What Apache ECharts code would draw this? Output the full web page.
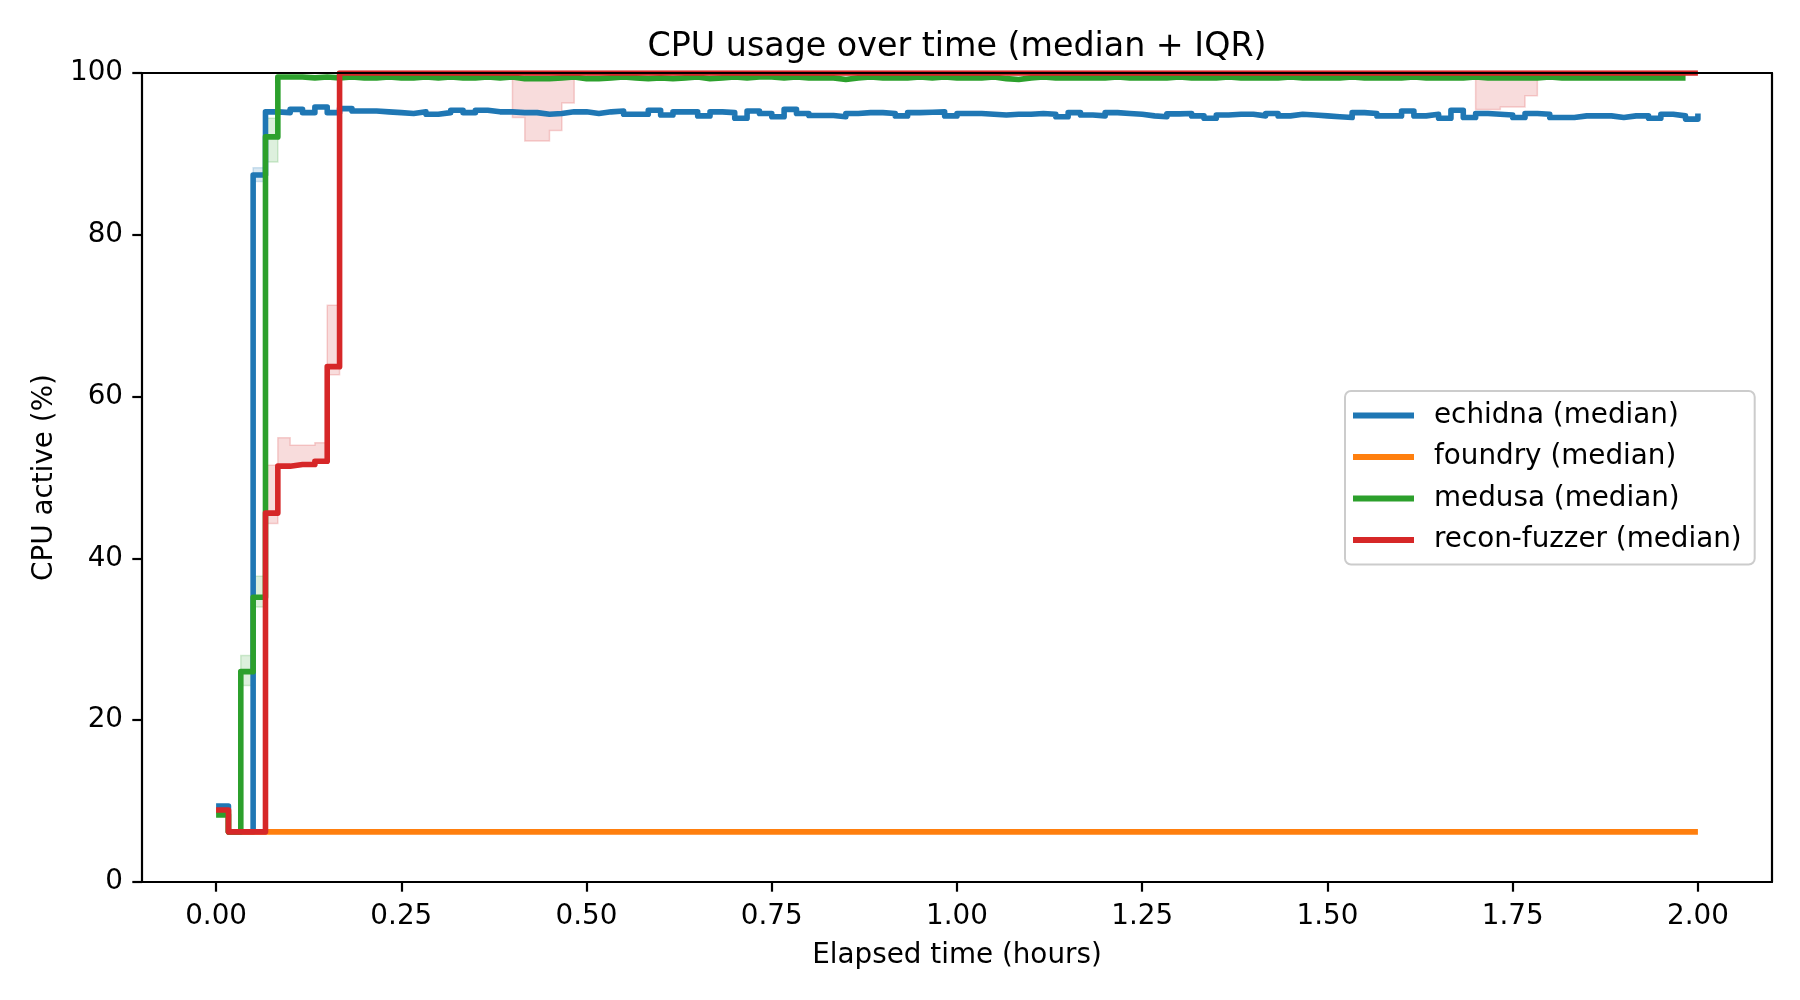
<!DOCTYPE html>
<html>
<head>
<meta charset="utf-8">
<script src="https://cdn.jsdelivr.net/npm/echarts@6/dist/echarts.min.js"></script>
<style>
html,body{margin:0;padding:0;background:#fff;}
#chart{width:1800px;height:1000px;}
</style>
</head>
<body>
<div id="chart"></div>
<script>
// Sample times: one sample per minute, 0..120 minutes, expressed in hours
const sampleMinutes = Array.from({length: 121}, (_, i) => i);
const xTicks = [0, 0.25, 0.5, 0.75, 1.0, 1.25, 1.5, 1.75, 2.0];
const yTicks = [0, 20, 40, 60, 80, 100];

const echidnaMedian = [
  9.4, 6.2, 6.2, 87.4, 95.2, 95.1, 95.5, 95.1, 95.8, 95.1,
  95.6, 95.3, 95.3, 95.2, 95.1, 95.0, 95.2, 94.9, 95.1, 95.4,
  95.1, 95.4, 95.2, 95.2, 95.1, 95.1, 94.9, 95.0, 95.2, 95.2,
  95.0, 95.2, 95.3, 94.9, 94.9, 95.4, 94.8, 95.2, 95.2, 94.7,
  95.2, 95.1, 94.4, 95.3, 95.0, 94.6, 95.5, 95.0, 94.75, 94.75,
  94.6, 95.0, 95.1, 95.1, 95.0, 94.7, 95.1, 95.15, 95.2, 94.7,
  95.0, 95.0, 94.9, 94.8, 94.9, 94.9, 95.0, 94.9, 94.6, 95.1,
  94.8, 94.7, 95.1, 95.0, 94.9, 94.7, 94.6, 94.95, 95.0, 94.7,
  94.4, 94.8, 94.9, 94.9, 94.7, 95.0, 94.7, 94.9, 94.8, 94.7,
  94.6, 94.5, 95.1, 95.0, 94.7, 94.7, 95.3, 94.7, 94.9, 94.4,
  95.4, 94.5, 95.0, 94.9, 94.8, 94.5, 95.0, 94.9, 94.5, 94.5,
  94.7, 94.7, 94.7, 94.5, 94.7, 94.7, 94.4, 94.9, 94.7, 94.3,
  95.0
];

const foundryMedian = [
  8.8, 6.2, 6.2, 6.2, 6.2, 6.2, 6.2, 6.2, 6.2, 6.2,
  6.2, 6.2, 6.2, 6.2, 6.2, 6.2, 6.2, 6.2, 6.2, 6.2,
  6.2, 6.2, 6.2, 6.2, 6.2, 6.2, 6.2, 6.2, 6.2, 6.2,
  6.2, 6.2, 6.2, 6.2, 6.2, 6.2, 6.2, 6.2, 6.2, 6.2,
  6.2, 6.2, 6.2, 6.2, 6.2, 6.2, 6.2, 6.2, 6.2, 6.2,
  6.2, 6.2, 6.2, 6.2, 6.2, 6.2, 6.2, 6.2, 6.2, 6.2,
  6.2, 6.2, 6.2, 6.2, 6.2, 6.2, 6.2, 6.2, 6.2, 6.2,
  6.2, 6.2, 6.2, 6.2, 6.2, 6.2, 6.2, 6.2, 6.2, 6.2,
  6.2, 6.2, 6.2, 6.2, 6.2, 6.2, 6.2, 6.2, 6.2, 6.2,
  6.2, 6.2, 6.2, 6.2, 6.2, 6.2, 6.2, 6.2, 6.2, 6.2,
  6.2, 6.2, 6.2, 6.2, 6.2, 6.2, 6.2, 6.2, 6.2, 6.2,
  6.2, 6.2, 6.2, 6.2, 6.2, 6.2, 6.2, 6.2, 6.2, 6.2,
  6.2
];

const medusaMedian = [
  8.3, 6.2, 26.0, 35.2, 92.1, 99.5, 99.5, 99.4, 99.5, 99.4,
  99.5, 99.4, 99.4, 99.5, 99.4, 99.4, 99.5, 99.4, 99.5, 99.4,
  99.4, 99.5, 99.4, 99.5, 99.3, 99.3, 99.3, 99.4, 99.5, 99.3,
  99.3, 99.4, 99.5, 99.4, 99.3, 99.4, 99.3, 99.4, 99.5, 99.3,
  99.4, 99.5, 99.4, 99.5, 99.5, 99.4, 99.5, 99.4, 99.4, 99.4,
  99.2, 99.4, 99.5, 99.4, 99.4, 99.4, 99.5, 99.4, 99.5, 99.4,
  99.4, 99.4, 99.5, 99.3, 99.2, 99.4, 99.5, 99.4, 99.4, 99.4,
  99.4, 99.4, 99.5, 99.4, 99.4, 99.4, 99.4, 99.5, 99.4, 99.4,
  99.4, 99.5, 99.4, 99.4, 99.4, 99.4, 99.5, 99.4, 99.4, 99.4,
  99.4, 99.5, 99.4, 99.4, 99.4, 99.4, 99.5, 99.4, 99.4, 99.4,
  99.4, 99.5, 99.4, 99.4, 99.4, 99.4, 99.4, 99.5, 99.4, 99.4,
  99.4, 99.4, 99.4, 99.4, 99.4, 99.4, 99.4, 99.4, 99.4, 99.4
];

const reconMedian = [
  8.9, 6.2, 6.2, 6.2, 45.6, 51.4, 51.6, 51.6, 52.0, 63.7,
  100, 100, 100, 100, 100, 100, 100, 100, 100, 100,
  100, 100, 100, 100, 100, 100, 100, 100, 100, 100,
  100, 100, 100, 100, 100, 100, 100, 100, 100, 100,
  100, 100, 100, 100, 100, 100, 100, 100, 100, 100,
  100, 100, 100, 100, 100, 100, 100, 100, 100, 100,
  100, 100, 100, 100, 100, 100, 100, 100, 100, 100,
  100, 100, 100, 100, 100, 100, 100, 100, 100, 100,
  100, 100, 100, 100, 100, 100, 100, 100, 100, 100,
  100, 100, 100, 100, 100, 100, 100, 100, 100, 100,
  100, 100, 100, 100, 100, 100, 100, 100, 100, 100,
  100, 100, 100, 100, 100, 100, 100, 100, 100, 100,
  100
];

// IQR bands (only where visibly wider than the line): start minute, q1, q3
const reconBand1Start = 4;
const reconBand1Q1 = [44.3, 51.4, 51.6, 51.6, 52.0, 62.7, 100];
const reconBand1Q3 = [51.5, 54.9, 54.0, 54.0, 54.3, 71.3, 100];
const reconBand2Start = 24;
const reconBand2Q1 = [94.5, 91.6, 91.6, 92.9, 96.3, 100];
const reconBand2Q3 = [100, 100, 100, 100, 100, 100];
const reconBand3Start = 102;
const reconBand3Q1 = [95.5, 95.5, 95.8, 95.8, 97.2, 100];
const reconBand3Q3 = [100, 100, 100, 100, 100, 100];
const medusaBandStart = 2;
const medusaBandQ1 = [24.3, 34.0, 89.0, 99.5];
const medusaBandQ3 = [28.0, 37.8, 94.4, 99.5];
const echidnaBandStart = 3;
const echidnaBandQ1 = [86.6, 95.2];
const echidnaBandQ3 = [88.3, 95.2];

const names = ['echidna (median)', 'foundry (median)', 'medusa (median)', 'recon-fuzzer (median)'];
const colors = ['#1f77b4', '#ff7f0e', '#2ca02c', '#d62728'];

const FONT = 'DejaVu Sans';
const hours = m => m / 60;

function lineSeries(name, color, vals, z) {
  return {
    name: name, type: 'line', step: 'end', showSymbol: false, symbol: 'none',
    data: vals.map((v, i) => [hours(sampleMinutes[i]), v]),
    lineStyle: {color: color, width: 5.6, join: 'round', cap: 'butt'},
    itemStyle: {color: color},
    z: z, animation: false, silent: true
  };
}

// Band drawn as one step-shaped polygon, positions computed through the axes (api.coord)
function bandSeries(rgb, start, q1, q3) {
  const n = q1.length;
  const data = q1.map((v, i) => [hours(sampleMinutes[start + i]), v, q3[i]]);
  return {
    type: 'custom', silent: true, animation: false, z: 1,
    data: [[data[0][0], data[0][1]]],
    encode: {x: 0, y: 1},
    renderItem: function (params, api) {
      const pts = [];
      for (let i = 0; i < n; i++) {
        pts.push(api.coord([data[i][0], data[i][2]]));
        if (i < n - 1) pts.push(api.coord([data[i + 1][0], data[i][2]]));
      }
      for (let i = n - 1; i >= 0; i--) {
        if (i < n - 1) pts.push(api.coord([data[i + 1][0], data[i][1]]));
        pts.push(api.coord([data[i][0], data[i][1]]));
      }
      return {
        type: 'polygon',
        shape: {points: pts},
        style: {fill: 'rgba(' + rgb + ',0.16)', stroke: 'rgba(' + rgb + ',0.2)', lineWidth: 1.5}
      };
    }
  };
}

const series = [
  bandSeries('31,119,180', echidnaBandStart, echidnaBandQ1, echidnaBandQ3),
  bandSeries('44,160,44', medusaBandStart, medusaBandQ1, medusaBandQ3),
  bandSeries('214,39,40', reconBand1Start, reconBand1Q1, reconBand1Q3),
  bandSeries('214,39,40', reconBand2Start, reconBand2Q1, reconBand2Q3),
  bandSeries('214,39,40', reconBand3Start, reconBand3Q1, reconBand3Q3),
  lineSeries(names[0], colors[0], echidnaMedian, 3),
  lineSeries(names[1], colors[1], foundryMedian, 4),
  lineSeries(names[2], colors[2], medusaMedian, 5),
  lineSeries(names[3], colors[3], reconMedian, 6)
];

const chart = echarts.init(document.getElementById('chart'), null, {renderer: 'canvas'});
chart.setOption({
  backgroundColor: '#ffffff',
  animation: false,
  textStyle: {fontFamily: FONT},
  grid: {left: 142, right: 28, top: 73, bottom: 118, containLabel: false},
  legend: {
    data: names.map(n => ({name: n, icon: 'rect'})),
    orient: 'vertical',
    left: 1345, top: 391,
    itemWidth: 61, itemHeight: 6, itemGap: 13.5,
    padding: [10.5, 13, 10.5, 8],
    backgroundColor: 'rgba(255,255,255,0.8)',
    borderColor: '#cccccc', borderWidth: 2, borderRadius: 6,
    textStyle: {fontFamily: FONT, fontSize: 27.8, color: '#000', padding: [0, 0, 0, 15]},
    selectedMode: false
  },
  xAxis: [
    {
      type: 'value', min: -0.1, max: 2.1, position: 'bottom',
      name: 'Elapsed time (hours)', nameLocation: 'middle', nameGap: 60,
      nameTextStyle: {fontFamily: FONT, fontSize: 27.8, color: '#000'},
      axisLine: {show: true, onZero: false, lineStyle: {color: '#000', width: 2.2}},
      axisTick: {show: true, length: 9.7, lineStyle: {color: '#000', width: 2.2}, customValues: xTicks},
      axisLabel: {show: true, margin: 21, fontFamily: FONT, fontSize: 27.8, color: '#000',
        customValues: xTicks, formatter: v => v.toFixed(2)},
      splitLine: {show: false}, z: 10
    },
    {
      type: 'value', min: -0.1, max: 2.1, position: 'top',
      name: 'CPU usage over time (median + IQR)', nameLocation: 'middle', nameGap: 9,
      nameTextStyle: {fontFamily: FONT, fontSize: 33.3, color: '#000'},
      axisLine: {show: true, onZero: false, lineStyle: {color: '#000', width: 2.2}},
      axisTick: {show: false}, axisLabel: {show: false}, splitLine: {show: false}, z: 10
    }
  ],
  yAxis: [
    {
      type: 'value', min: 0, max: 100, interval: 20, position: 'left',
      name: 'CPU active (%)', nameLocation: 'middle', nameGap: 83,
      nameTextStyle: {fontFamily: FONT, fontSize: 27.8, color: '#000'},
      axisLine: {show: true, onZero: false, lineStyle: {color: '#000', width: 2.2}},
      axisTick: {show: true, length: 9.7, lineStyle: {color: '#000', width: 2.2}},
      axisLabel: {show: true, margin: 19, fontFamily: FONT, fontSize: 27.8, color: '#000',
        formatter: v => (yTicks.indexOf(v) >= 0 ? String(v) : '')},
      splitLine: {show: false}, z: 10
    },
    {
      type: 'value', min: 0, max: 100, position: 'right',
      axisLine: {show: true, onZero: false, lineStyle: {color: '#000', width: 2.2}},
      axisTick: {show: false}, axisLabel: {show: false}, splitLine: {show: false}, z: 10
    }
  ],
  series: series
});
</script>
</body>
</html>
